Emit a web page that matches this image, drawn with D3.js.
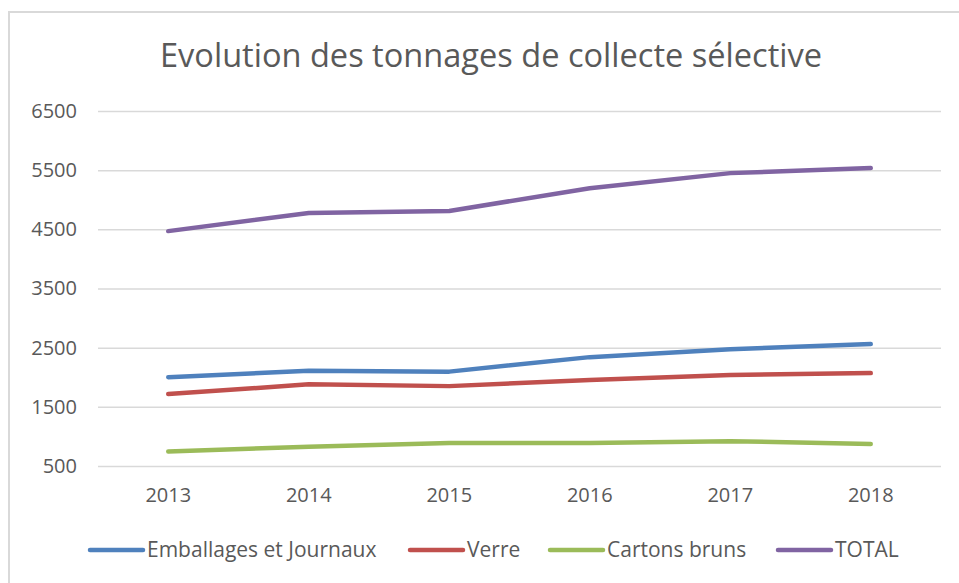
<!DOCTYPE html>
<html>
<head>
<meta charset="utf-8">
<script src="https://cdn.jsdelivr.net/npm/d3@7"></script>
<style>
  body { margin: 0; background: #fff; }
  text { font-family: "Open Sans", sans-serif; fill: #595959; }
</style>
</head>
<body>
<div id="chart"></div>
<script>
var width = 959;
var height = 583;

// data
var years = ['2013', '2014', '2015', '2016', '2017', '2018'];
var emballages = [2000, 2110, 2095, 2340, 2475, 2560];
var verre = [1715, 1880, 1850, 1955, 2040, 2070];
var cartons = [745, 825, 890, 890, 920, 872];
var total = [4470, 4775, 4810, 5195, 5450, 5535];
var seriesNames = ['Emballages et Journaux', 'Verre', 'Cartons bruns', 'TOTAL'];
var seriesColors = ['#4f81bd', '#c0504d', '#9bbb59', '#8064a2'];
var yTicks = [500, 1500, 2500, 3500, 4500, 5500, 6500];

var series = [emballages, verre, cartons, total];

var svg = d3.select('#chart')
  .append('svg')
  .attr('width', width)
  .attr('height', height);

// chart frame
svg.append('rect')
  .attr('x', 9)
  .attr('y', 12)
  .attr('width', width + 20)
  .attr('height', height + 20)
  .attr('fill', '#fff')
  .attr('stroke', '#d9d9d9')
  .attr('stroke-width', 2);

svg.append('text')
  .text('Evolution des tonnages de collecte sélective')
  .attr('x', 491)
  .attr('y', 67)
  .attr('text-anchor', 'middle')
  .attr('textLength', 662)
  .attr('lengthAdjust', 'spacingAndGlyphs')
  .style('font-size', '32px');

var plotLeft = 98, plotRight = 941, plotTop = 111, plotBottom = 466;

var xScale = d3.scaleBand().domain(years).range([plotLeft, plotRight]);
var yScale = d3.scaleLinear().domain([500, 6500]).range([plotBottom, plotTop]);

// gridlines + y labels
var yAxis = d3.axisLeft(yScale)
  .tickValues(yTicks)
  .tickSize(-(plotRight - plotLeft))
  .tickPadding(21)
  .tickFormat(d3.format('d'));
var gy = svg.append('g')
  .attr('transform', 'translate(' + plotLeft + ',0)')
  .call(yAxis);
gy.select('.domain').remove();
gy.selectAll('line').attr('stroke', '#d9d9d9').attr('stroke-width', 1.5);
gy.selectAll('text')
  .style('font-size', '20px')
  .style('font-family', '"Open Sans", sans-serif')
  .attr('fill', '#595959');

// x labels
var xAxis = d3.axisBottom(xScale).tickSize(0).tickPadding(22);
var gx = svg.append('g')
  .attr('transform', 'translate(0,' + plotBottom + ')')
  .call(xAxis);
gx.select('.domain').remove();
gx.selectAll('text')
  .style('font-size', '20px')
  .style('font-family', '"Open Sans", sans-serif')
  .attr('fill', '#595959');

// lines
var line = d3.line()
  .x(function(d, i) { return xScale(years[i]) + xScale.bandwidth() / 2; })
  .y(function(d) { return yScale(d); });

svg.append('g')
  .selectAll('path')
  .data(series)
  .enter()
  .append('path')
  .attr('d', line)
  .attr('fill', 'none')
  .attr('stroke', function(d, i) { return seriesColors[i]; })
  .attr('stroke-width', 4.5)
  .attr('stroke-linecap', 'round')
  .attr('stroke-linejoin', 'round');

// legend
var legendX = [90, 410, 550, 778];
var legendY = 550;
var legend = svg.append('g')
  .selectAll('g')
  .data(seriesNames)
  .enter()
  .append('g')
  .attr('transform', function(d, i) { return 'translate(' + legendX[i] + ',' + legendY + ')'; });
legend.append('line')
  .attr('x1', 0)
  .attr('x2', 53)
  .attr('stroke', function(d, i) { return seriesColors[i]; })
  .attr('stroke-width', 4.5)
  .attr('stroke-linecap', 'round');
legend.append('text')
  .text(function(d) { return d; })
  .attr('x', 57)
  .attr('y', 7)
  .style('font-size', '21px');
</script>
</body>
</html>
